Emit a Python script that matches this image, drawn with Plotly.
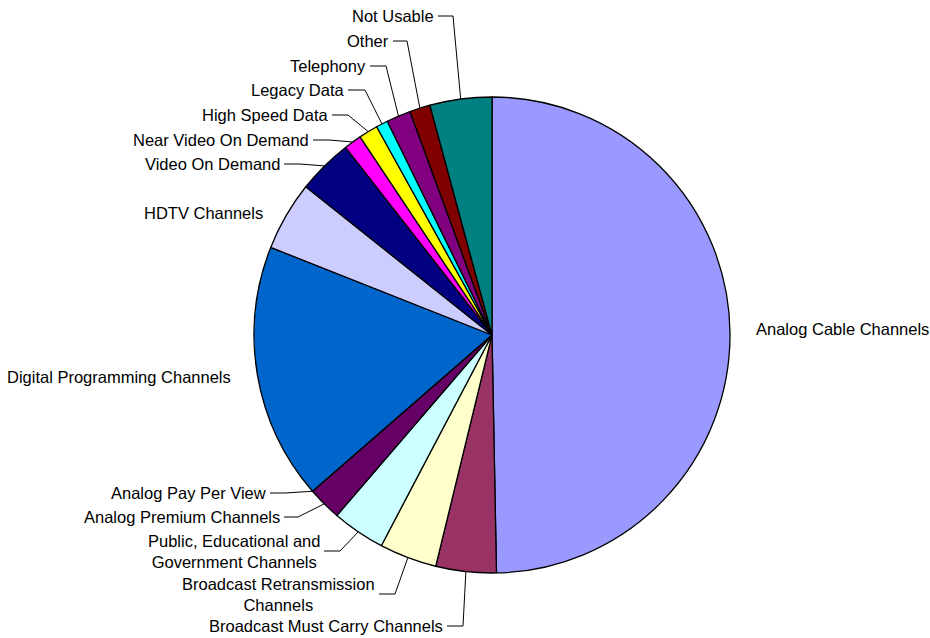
import math
import plotly.graph_objects as go

# ---- data ----
categories = [
    "Analog Cable Channels",
    "Broadcast Must Carry Channels",
    "Broadcast Retransmission Channels",
    "Public, Educational and Government Channels",
    "Analog Premium Channels",
    "Analog Pay Per View",
    "Digital Programming Channels",
    "HDTV Channels",
    "Video On Demand",
    "Near Video On Demand",
    "High Speed Data",
    "Legacy Data",
    "Telephony",
    "Other",
    "Not Usable",
]
shares = [49.7, 4.1, 3.9, 3.6, 2.3, 0.0, 17.4, 4.7, 3.75, 1.2, 1.3, 0.8, 1.65, 1.4, 4.2]
label_texts = [
    "Analog Cable Channels",
    "Broadcast Must Carry Channels",
    "Broadcast Retransmission<br>Channels",
    "Public, Educational and<br>Government Channels",
    "Analog Premium Channels",
    "Analog Pay Per View",
    "Digital Programming Channels",
    "HDTV Channels",
    "Video On Demand",
    "Near Video On Demand",
    "High Speed Data",
    "Legacy Data",
    "Telephony",
    "Other",
    "Not Usable",
]
colors = ["#9999FF", "#993366", "#FFFFCC", "#CCFFFF", "#660066", "#FF8080", "#0066CC",
          "#CCCCFF", "#000080", "#FF00FF", "#FFFF00", "#00FFFF", "#800080", "#800000", "#008080"]

# ---- layout (pixel space) ----
W, H = 930, 638
CX, CY, R = 492, 335, 238
FONT = "Liberation Sans, Arial, sans-serif"
FS = 16.5

# label placement: (anchor, x, y, elbow_x or None)
label_pos = [
    ("left", 754, 329, None),
    ("right", 445, 626, 463),
    ("right", 377, 594, 395),
    ("right", 322, 551, 340),
    ("right", 282, 517, 298),
    ("right", 268, 493, 285),
    ("right", 233, 377, None),
    ("right", 265, 213, None),
    ("right", 282, 164, 300),
    ("right", 311, 140, 329),
    ("right", 330, 115, 348),
    ("right", 346, 90, 365),
    ("right", 368, 66, 386),
    ("right", 391, 41, 407),
    ("right", 436, 16, 453),
]

fig = go.Figure()
fig.add_trace(go.Pie(
    labels=categories, values=shares, sort=False, direction="clockwise", rotation=0,
    marker=dict(colors=colors, line=dict(color="black", width=1.3)),
    textinfo="none", textposition="none", hoverinfo="label+percent", showlegend=False,
    domain=dict(x=[(CX - R) / W, (CX + R) / W], y=[1 - (CY + R) / H, 1 - (CY - R) / H]),
))

total = sum(shares)
cum = 0.0
lx, ly = [], []
annotations = []
for i, v in enumerate(shares):
    mid = (cum + v / 2) / total * 2 * math.pi
    cum += v
    rx = CX + R * math.sin(mid)
    ry = CY - R * math.cos(mid)
    anchor, tx, ty, ex = label_pos[i]
    annotations.append(dict(
        x=tx, y=ty, xref="x", yref="y", text=label_texts[i], showarrow=False,
        xanchor=anchor, yanchor="middle", align="center",
        font=dict(family=FONT, size=FS, color="black"),
    ))
    if ex is not None:
        lx += [tx + 2, ex, rx, None]
        ly += [ty, ty, ry, None]

fig.add_trace(go.Scatter(x=lx, y=ly, mode="lines", line=dict(color="black", width=1),
                         hoverinfo="skip", showlegend=False))

fig.update_layout(
    width=W, height=H, margin=dict(l=0, r=0, t=0, b=0),
    paper_bgcolor="white", plot_bgcolor="rgba(0,0,0,0)",
    xaxis=dict(range=[0, W], visible=False, fixedrange=True),
    yaxis=dict(range=[H, 0], visible=False, fixedrange=True),
    annotations=annotations,
)
fig.write_html("out.html")
